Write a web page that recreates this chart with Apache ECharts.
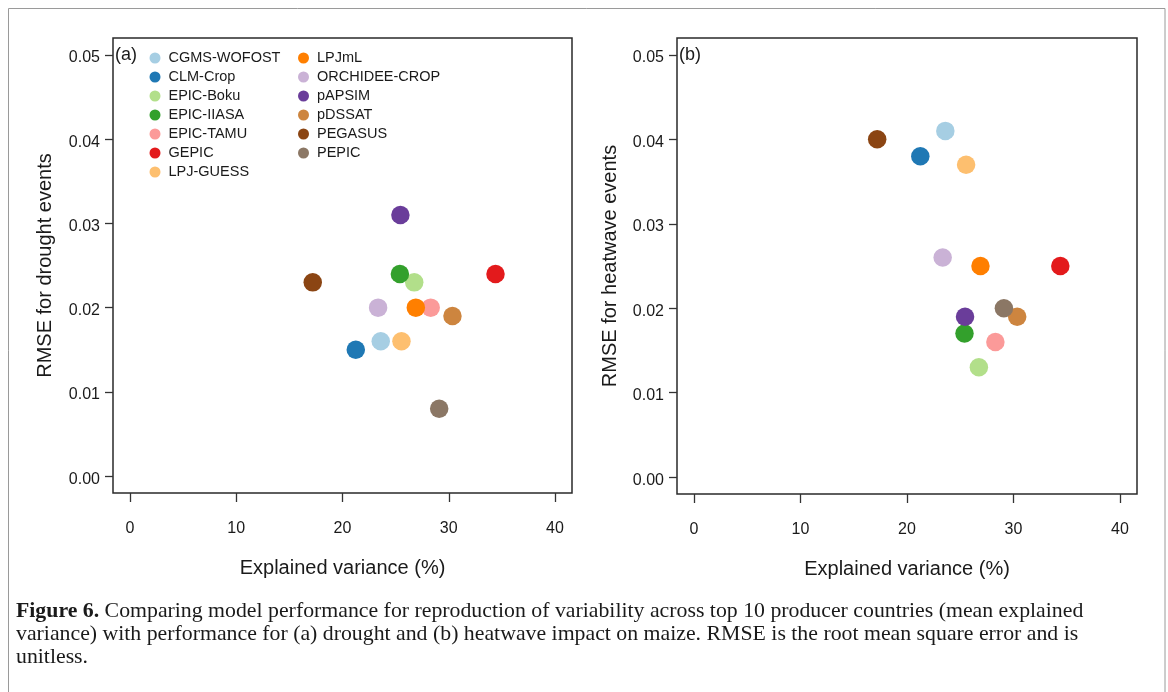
<!DOCTYPE html>
<html>
<head>
<meta charset="utf-8">
<script src="https://cdn.jsdelivr.net/npm/echarts@6/dist/echarts.min.js"></script>
<style>
html,body{margin:0;padding:0;background:#fff;}
#chart{width:1168px;height:692px;}
</style>
</head>
<body>
<div id="chart"></div>
<script>
// ---- data ----
const models = ["CGMS-WOFOST","CLM-Crop","EPIC-Boku","EPIC-IIASA","EPIC-TAMU","GEPIC","LPJ-GUESS",
                "LPJmL","ORCHIDEE-CROP","pAPSIM","pDSSAT","PEGASUS","PEPIC"];
const colors = ["#A6CEE3","#1F78B4","#B2DF8A","#33A02C","#FB9A99","#E31A1C","#FDBF6F",
                "#FF7F00","#CAB2D6","#6A3D9A","#CD853F","#8B4513","#8B7765"];
const explainedVariance = [23.6, 21.25, 26.75, 25.4, 28.3, 34.4, 25.55, 26.9, 23.35, 25.45, 30.35, 17.2, 29.1];
const rmseDrought  = [0.016, 0.015, 0.023, 0.024, 0.020, 0.024, 0.016, 0.020, 0.020, 0.031, 0.019, 0.023, 0.008];
const rmseHeatwave = [0.041, 0.038, 0.013, 0.017, 0.016, 0.025, 0.037, 0.025, 0.026, 0.019, 0.019, 0.040, 0.020];
const xTicks = [0, 10, 20, 30, 40];
const yTicks = [0, 0.01, 0.02, 0.03, 0.04, 0.05];
const panelLabels = ["(a)", "(b)"];
const yTitles = ["RMSE for drought events", "RMSE for heatwave events"];
const xTitle = "Explained variance (%)";
const captionLines = [
  ["Figure 6.", " Comparing model performance for reproduction of variability across top 10 producer countries (mean explained"],
  ["", "variance) with performance for (a) drought and (b) heatwave impact on maize. RMSE is the root mean square error and is"],
  ["", "unitless."]
];

const SANS = "'Liberation Sans', Arial, sans-serif";
const SERIF = "'Liberation Serif', 'Times New Roman', serif";
const INK = "#1a1a1a";

const chart = echarts.init(document.getElementById('chart'), null, {renderer: 'canvas'});

const grids = [
  {left: 113, top: 38, width: 459, height: 455},
  {left: 677, top: 38, width: 460, height: 456}
].map(g => Object.assign(g, {show: true, borderColor: '#2a2a2a', borderWidth: 1.5, backgroundColor: 'transparent'}));

function xAxisFor(i) {
  return {
    type: 'value', gridIndex: i, min: -1.6, max: 41.6, position: 'bottom',
    name: xTitle, nameLocation: 'middle', nameGap: 65,
    nameTextStyle: {fontFamily: SANS, fontSize: 20, color: INK},
    axisLine: {show: false, onZero: false},
    axisTick: {show: true, customValues: xTicks, length: 9, lineStyle: {color: '#333', width: 1.3}},
    axisLabel: {customValues: xTicks, margin: 28, fontFamily: SANS, fontSize: 16, color: INK},
    splitLine: {show: false}
  };
}
function yAxisFor(i) {
  return {
    type: 'value', gridIndex: i, min: -0.002, max: 0.052, position: 'left',
    name: yTitles[i], nameLocation: 'middle', nameGap: i === 0 ? 58 : 57,
    nameTextStyle: {fontFamily: SANS, fontSize: 20, color: INK},
    axisLine: {show: false, onZero: false},
    axisTick: {show: true, customValues: yTicks, length: 8, lineStyle: {color: '#333', width: 1.3}},
    axisLabel: {customValues: yTicks, margin: 13, fontFamily: SANS, fontSize: 16, color: INK,
                formatter: v => '{t|' + v.toFixed(2) + '}',
                rich: {t: {fontFamily: SANS, fontSize: 16, color: INK, padding: [6, 0, 0, 0]}}},
    splitLine: {show: false}
  };
}

const series = [];
[rmseDrought, rmseHeatwave].forEach((arr, gi) => {
  models.forEach((m, k) => {
    series.push({
      type: 'scatter', name: m, xAxisIndex: gi, yAxisIndex: gi,
      symbol: 'circle', symbolSize: 18.5,
      itemStyle: {color: colors[k], opacity: 1},
      emphasis: {disabled: true},
      data: [[explainedVariance[k], arr[k]]]
    });
  });
});

const legendCommon = {
  orient: 'vertical', top: 45, itemWidth: 17, itemHeight: 11, itemGap: 3,
  icon: 'circle', selectedMode: false,
  textStyle: {fontFamily: SANS, fontSize: 14.5, color: INK, lineHeight: 16}
};

const graphics = [
  {type: 'rect', shape: {x: 8.5, y: 8.5, width: 1156.5, height: 700}, style: {fill: 'none', stroke: '#9a9a9a', lineWidth: 1}, silent: true},
  {type: 'text', left: 115, top: 46, style: {text: panelLabels[0], font: "18px " + SANS, fill: INK}},
  {type: 'text', left: 679, top: 46, style: {text: panelLabels[1], font: "18px " + SANS, fill: INK}}
];
captionLines.forEach((ln, i) => {
  graphics.push({
    type: 'text', left: 16, top: 600 + i * 23,
    style: {
      text: (ln[0] ? '{b|' + ln[0] + '}' : '') + '{n|' + ln[1] + '}',
      rich: {
        b: {font: "bold 21.8px " + SERIF, fill: INK},
        n: {font: "21.8px " + SERIF, fill: INK}
      }
    }
  });
});

chart.setOption({
  animation: false,
  backgroundColor: '#fff',
  grid: grids,
  xAxis: [xAxisFor(0), xAxisFor(1)],
  yAxis: [yAxisFor(0), yAxisFor(1)],
  legend: [
    Object.assign({left: 144.5, data: models.slice(0, 7)}, legendCommon),
    Object.assign({left: 293, data: models.slice(7)}, legendCommon)
  ],
  series: series,
  graphic: graphics
});
</script>
</body>
</html>
